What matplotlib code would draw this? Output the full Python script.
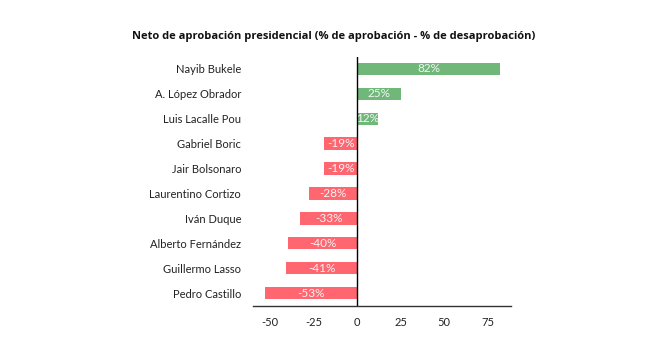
import matplotlib
matplotlib.use("Agg")
import matplotlib.pyplot as plt

# neto de aprobación por presidente
nombres = ["Nayib Bukele", "A. López Obrador", "Luis Lacalle Pou", "Gabriel Boric",
           "Jair Bolsonaro", "Laurentino Cortizo", "Iván Duque", "Alberto Fernández",
           "Guillermo Lasso", "Pedro Castillo"]
neto = [82, 25, 12, -19, -19, -28, -33, -40, -41, -53]
ticks = [-50, -25, 0, 25, 50, 75]

verde = "#70b77a"
rojo = "#ff6670"

plt.rcParams["font.family"] = ["Lato", "DejaVu Sans"]

fig = plt.figure(figsize=(6.49, 3.39), dpi=100)
ax = fig.add_axes([0.3898, 0.0988, 0.3976, 0.7345])

pos = list(range(len(nombres)))
colores = [verde if v > 0 else rojo for v in neto]
ax.barh(pos, neto, height=0.5, color=colores)

for y, v in zip(pos, neto):
    ax.text(v / 2, y, f"{v}%", ha="center", va="center", color="#f4f4f4", fontsize=8.5)

ax.axvline(0, color="black", lw=1)
ax.set_xlim(-60, 88.5)
ax.set_ylim(9.5, -0.5)
ax.set_yticks(pos)
ax.set_yticklabels(nombres, fontsize=8, color="#222222")
ax.set_xticks(ticks)
ax.set_xticklabels([str(t) for t in ticks], fontsize=8, color="#222222")
ax.tick_params(axis="y", length=0, pad=8.5)
ax.tick_params(axis="x", length=0, pad=8)

for s in ["top", "right", "left"]:
    ax.spines[s].set_visible(False)
ax.spines["bottom"].set_color("#333333")
ax.spines["bottom"].set_linewidth(1)

fig.text(0.514, 0.893, "Neto de aprobación presidencial (% de aprobación - % de desaprobación)",
         ha="center", va="center", fontsize=8, fontweight="bold", color="#111111",
         family=["Open Sans", "DejaVu Sans"])

fig.savefig("out.png", dpi=100)
